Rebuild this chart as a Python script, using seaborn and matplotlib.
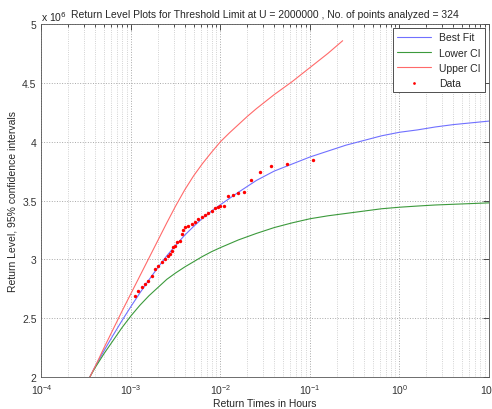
import numpy as np
import seaborn as sns
import matplotlib.pyplot as plt
from matplotlib.ticker import LogLocator, NullLocator

# return level curves (values in units of 1e6), read at log10(hours) positions
curve_exp = [-3.46, -3.4, -3.3, -3.2, -3.1, -3.0, -2.9, -2.8, -2.7, -2.6, -2.5, -2.4, -2.3,
             -2.2, -2.1, -2.0, -1.8, -1.6, -1.4, -1.2, -1.0, -0.8, -0.6, -0.4, -0.2,
             0.0, 0.2, 0.4, 0.6, 0.8, 1.0]
best_fit = [2.00, 2.09, 2.225, 2.355, 2.48, 2.60, 2.715, 2.825, 2.93, 3.03, 3.12, 3.205, 3.28,
            3.35, 3.41, 3.465, 3.57, 3.67, 3.75, 3.81, 3.87, 3.92, 3.97, 4.01, 4.05,
            4.08, 4.10, 4.125, 4.145, 4.16, 4.175]
lower_ci = [2.00, 2.08, 2.20, 2.31, 2.42, 2.52, 2.61, 2.69, 2.76, 2.83, 2.885, 2.935, 2.98,
            3.025, 3.065, 3.10, 3.165, 3.22, 3.27, 3.31, 3.345, 3.37, 3.39, 3.41, 3.43,
            3.443, 3.453, 3.462, 3.468, 3.474, 3.48]

upper_exp = [-3.46, -3.4, -3.3, -3.2, -3.1, -3.0, -2.9, -2.8, -2.7, -2.6, -2.5, -2.4, -2.3,
             -2.2, -2.1, -2.0, -1.9, -1.8, -1.7, -1.6, -1.4, -1.2, -1.0, -0.8, -0.635]
upper_ci = [2.00, 2.09, 2.25, 2.405, 2.56, 2.71, 2.86, 3.01, 3.16, 3.31, 3.455, 3.59, 3.71,
            3.815, 3.91, 4.00, 4.075, 4.145, 4.215, 4.28, 4.40, 4.51, 4.63, 4.75, 4.858]

# empirical points: return time (hours) and return level (1e6)
data_t = [0.1089, 0.0550, 0.0364, 0.0276, 0.0219, 0.0183, 0.0158, 0.0139, 0.0122, 0.0109,
          0.00986, 0.00944, 0.00869, 0.00798, 0.00731, 0.00671, 0.00617, 0.00565, 0.00519,
          0.00476, 0.00437, 0.00401, 0.00384, 0.00368, 0.00352, 0.00324, 0.00310, 0.00297,
          0.00285, 0.00273, 0.00261, 0.00240, 0.00220, 0.00202, 0.00185, 0.00170, 0.00156,
          0.00143, 0.00132, 0.00121, 0.00111]
data_level = [3.845, 3.811, 3.796, 3.740, 3.677, 3.570, 3.564, 3.547, 3.536, 3.456,
              3.456, 3.448, 3.434, 3.414, 3.394, 3.377, 3.358, 3.343, 3.320,
              3.301, 3.286, 3.273, 3.252, 3.216, 3.159, 3.145, 3.116, 3.105,
              3.074, 3.046, 3.031, 3.003, 2.975, 2.947, 2.918, 2.862, 2.819,
              2.791, 2.763, 2.734, 2.692]

curve_t = [10 ** e for e in curve_exp]
upper_t = [10 ** e for e in upper_exp]

sns.set_style("white")
plt.rcParams['font.family'] = ['Liberation Sans', 'DejaVu Sans']

fig = plt.figure(figsize=(4.92, 4.10), dpi=100)
ax = fig.add_axes([0.0843, 0.078, 0.9096, 0.861])

sns.lineplot(x=curve_t, y=best_fit, ax=ax, color='#7070ff', lw=0.8, sort=False,
             estimator=None, label='Best Fit')
sns.lineplot(x=curve_t, y=lower_ci, ax=ax, color='#3c9a3c', lw=0.8, sort=False,
             estimator=None, label='Lower CI')
sns.lineplot(x=upper_t, y=upper_ci, ax=ax, color='#ff6a6a', lw=0.8, sort=False,
             estimator=None, label='Upper CI')
sns.scatterplot(x=data_t, y=data_level, ax=ax, color='red', marker='o', s=6,
                linewidth=0, label='Data', zorder=5)

ax.set_xscale('log')
ax.set_xlim(1e-4, 10)
ax.set_ylim(2, 5)
ax.set_yticks([2, 2.5, 3, 3.5, 4, 4.5, 5])
ax.set_yticklabels(['2', '2.5', '3', '3.5', '4', '4.5', '5'])
ax.xaxis.set_major_locator(LogLocator(base=10, numticks=10))
ax.xaxis.set_minor_locator(LogLocator(base=10, subs=np.arange(2, 10), numticks=20))
ax.yaxis.set_minor_locator(NullLocator())

ax.grid(True, which='major', ls=':', color='#a8a8a8', lw=0.7)
ax.grid(True, which='minor', axis='x', ls=':', color='#c4c4c4', lw=0.6)
ax.tick_params(which='both', direction='in', top=True, right=True, labelsize=7.5,
               colors='#333333', width=0.6)
ax.tick_params(which='major', length=4)
ax.tick_params(which='minor', length=2)
for s in ax.spines.values():
    s.set_color('#555555')
    s.set_linewidth(0.6)

ax.set_title('Return Level Plots for Threshold Limit at U = 2000000 , No. of points analyzed = 324',
             fontsize=7.5, pad=5)
ax.text(0.0, 1.004, r'x 10$^6$', transform=ax.transAxes, ha='left', va='bottom', fontsize=7.5)
ax.set_xlabel('Return Times in Hours', fontsize=7.5, labelpad=2)
ax.set_ylabel('Return Level, 95% confidence intervals', fontsize=7.5, labelpad=3)

leg = ax.legend(loc='upper right', fontsize=7.5, fancybox=False, edgecolor='#333333',
                framealpha=1, borderaxespad=0.4, handlelength=3.2, markerscale=0.8)
leg.get_frame().set_linewidth(0.6)

fig.savefig('out.png', dpi=100)
